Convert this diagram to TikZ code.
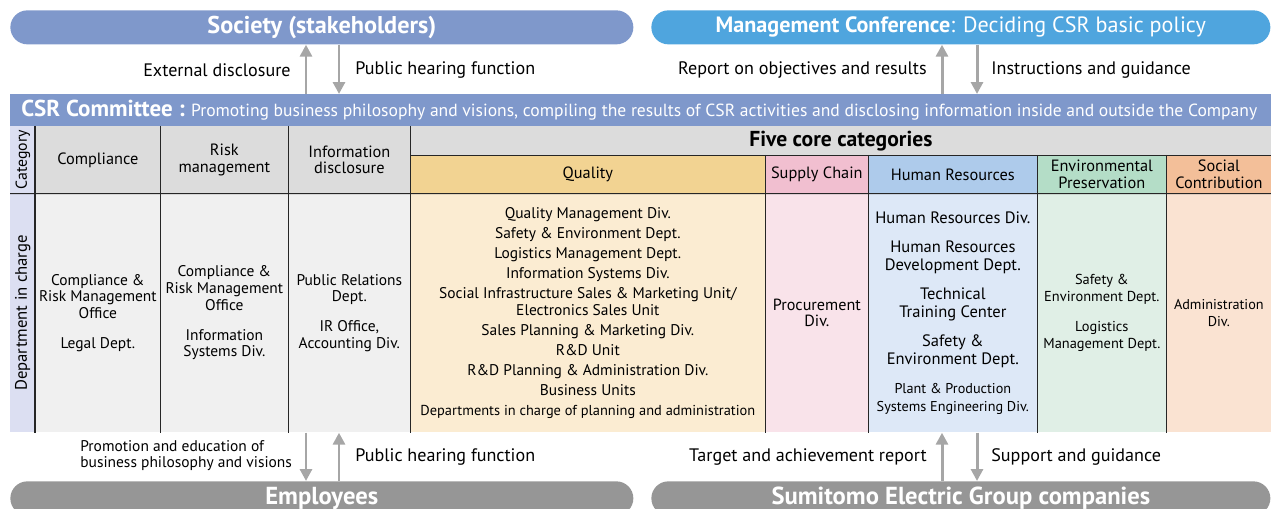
\documentclass[tikz,border=0pt]{standalone}
\usepackage{fontspec}
\setmainfont{PT Sans}
\usetikzlibrary{arrows.meta}

\newlength\px
\setlength\px{0.02cm}

\definecolor{barblue}{HTML}{7F98CB}
\definecolor{skyblue}{HTML}{4FA5DE}
\definecolor{pillgray}{HTML}{969696}
\definecolor{flowgray}{HTML}{A6A6A6}
\definecolor{lavender}{HTML}{DCDFF2}
\definecolor{headgray}{HTML}{DCDCDC}
\definecolor{bodygray}{HTML}{F0F0F0}
\definecolor{qhead}{HTML}{F2D392}
\definecolor{qbody}{HTML}{FBECD2}
\definecolor{schead}{HTML}{F1BFD0}
\definecolor{scbody}{HTML}{F9E3EA}
\definecolor{hrhead}{HTML}{AECBEB}
\definecolor{hrbody}{HTML}{DDE8F7}
\definecolor{ephead}{HTML}{B4DDC7}
\definecolor{epbody}{HTML}{E0EFE6}
\definecolor{sohead}{HTML}{F3BF99}
\definecolor{sobody}{HTML}{FAE3D2}

\tikzset{
  pill/.style={fill=#1, rounded corners=17\px, minimum width=623\px, minimum height=34\px,
    inner sep=0pt, anchor=north west, text=white, font=\fontsize{14}{16}\selectfont},
  flow/.style={draw=flowgray, line width=1.7pt, -{Triangle[width=6.8pt,length=6.8pt]}},
  lbl/.style={inner sep=0pt, font=\fontsize{10.3}{12}\selectfont},
  cell/.style={fill=#1, anchor=north west, inner sep=0pt, align=center, font=\fontsize{8.8}{9.5}\selectfont},
  headcell/.style={cell=#1, font=\fontsize{9.3}{9.6}\selectfont},
  grid/.style={draw=black!85, line width=0.57pt},
}

\begin{document}
\begin{tikzpicture}[x=0.02cm, y=-0.02cm]
\useasboundingbox (0,0) rectangle (1271,509);
\clip (0,0) rectangle (1271,509);

%% top bodies
\node[pill=barblue, font=\fontsize{13.8}{16}\selectfont] (soc) at (10,10) {\bfseries Society (stakeholders)};
\node[pill=skyblue, minimum width=619\px, font=\fontsize{12.6}{15}\selectfont] (mgmt) at (651,10) {\textbf{Management Conference}: Deciding CSR basic policy};
\node[fill=barblue, anchor=north west, minimum width=1261\px, minimum height=32\px, inner sep=0pt] (csr) at (10,94) {};
\node[anchor=west, text=white, inner sep=0pt] (csrText) at (21,110) {{\fontsize{13.1}{15}\selectfont\bfseries CSR Committee :} {\fontsize{10}{12}\selectfont Promoting business philosophy and visions, compiling the results of CSR activities and disclosing information inside and outside the Company}};

%% table: side labels
\node[cell=lavender, minimum width=25\px, minimum height=67\px] (cat) at (10,126) {};
\node[cell=lavender, minimum width=25\px, minimum height=239\px] (dept) at (10,193) {};
\node[rotate=90, inner sep=0pt, font=\fontsize{9}{10}\selectfont] (catLbl) at (cat.center) {Category};
\node[rotate=90, inner sep=0pt, font=\fontsize{9.5}{10}\selectfont] (deptLbl) at (dept.center) {Department in charge};

%% table: header row
\node[headcell=headgray, minimum width=125\px, minimum height=67\px] (hComp) at (35,126) {Compliance};
\node[headcell=headgray, minimum width=128\px, minimum height=67\px] (hRisk) at (160,126) {Risk\\management};
\node[headcell=headgray, minimum width=122\px, minimum height=67\px] (hInfo) at (288,126) {Information\\disclosure};
\node[cell=headgray, minimum width=861\px, minimum height=29\px, font=\fontsize{12.3}{14}\selectfont\bfseries] (hFive) at (410,126) {Five core categories};
\node[headcell=qhead, minimum width=355\px, minimum height=38\px] (hQual) at (410,155) {Quality};
\node[headcell=schead, minimum width=103\px, minimum height=38\px] (hSupp) at (765,155) {Supply Chain};
\node[headcell=hrhead, minimum width=169\px, minimum height=38\px] (hHR) at (868,155) {Human Resources};
\node[headcell=ephead, minimum width=129\px, minimum height=38\px] (hEnv) at (1037,155) {Environmental\\Preservation};
\node[headcell=sohead, minimum width=105\px, minimum height=38\px] (hSoc) at (1166,155) {Social\\Contribution};

%% table: departments in charge
\node[cell=bodygray, minimum width=125\px, minimum height=239\px] (dComp) at (35,193)
  {Compliance \&\\Risk Management\\Office\\[7.5pt]Legal Dept.};
\node[cell=bodygray, minimum width=128\px, minimum height=239\px] (dRisk) at (160,193)
  {Compliance \&\\Risk Management\\Office\\[7.5pt]Information\\Systems Div.};
\node[cell=bodygray, minimum width=122\px, minimum height=239\px] (dInfo) at (288,193)
  {Public Relations\\Dept.\\[7.5pt]IR Office,\\Accounting Div.};
\node[cell=qbody, minimum width=355\px, minimum height=239\px] (dQual) at (410,193)
  {Quality Management Div.\\[1.9pt]Safety \& Environment Dept.\\[1.9pt]Logistics Management Dept.\\[1.9pt]%
   Information Systems Div.\\[1.9pt]Social Infrastructure Sales \& Marketing Unit/\\Electronics Sales Unit\\[1.9pt]%
   Sales Planning \& Marketing Div.\\[1.9pt]R\&D Unit\\[1.9pt]R\&D Planning \& Administration Div.\\[1.9pt]%
   Business Units\\[1.9pt]{\fontsize{8.2}{9.5}\selectfont Departments in charge of planning and administration}};
\node[cell=scbody, minimum width=103\px, minimum height=239\px, font=\fontsize{9.2}{9.5}\selectfont] (dSupp) at (765,193) {Procurement\\Div.};
\node[cell=hrbody, minimum width=169\px, minimum height=239\px, font=\fontsize{9.4}{9.9}\selectfont] (dHR) at (868,193)
  {Human Resources Div.\\[7pt]Human Resources\\Development Dept.\\[7pt]Technical\\Training Center\\[7pt]%
   Safety \&\\Environment Dept.\\[7pt]{\fontsize{8.1}{9.5}\selectfont Plant \& Production}\\{\fontsize{8.1}{9.5}\selectfont Systems Engineering Div.}};
\node[cell=epbody, minimum width=129\px, minimum height=239\px, font=\fontsize{8.2}{9.5}\selectfont] (dEnv) at (1037,193)
  {Safety \&\\Environment Dept.\\[8pt]Logistics\\Management Dept.};
\node[cell=sobody, minimum width=105\px, minimum height=239\px, font=\fontsize{8.1}{9.5}\selectfont] (dSoc) at (1166,193) {Administration\\Div.};

%% table lines
\draw[grid] (cat.south west) -- (hSoc.south east);
\draw[grid] (hFive.south west) -- (hFive.south east);
\draw[grid] (hComp.north west) -- (dComp.south west);
\draw[grid] (hRisk.north west) -- (dRisk.south west);
\draw[grid] (hInfo.north west) -- (dInfo.south west);
\draw[grid] (hFive.north west) -- (dQual.south west);
\draw[grid] (hSupp.north west) -- (dSupp.south west);
\draw[grid] (hHR.north west) -- (dHR.south west);
\draw[grid] (hEnv.north west) -- (dEnv.south west);
\draw[grid] (hSoc.north west) -- (dSoc.south west);

%% bottom bodies
\node[pill=pillgray] (emp) at (10,481) {\bfseries Employees};
\node[pill=pillgray, minimum width=619\px] (grp) at (651,481) {\bfseries Sumitomo Electric Group companies};

%% flows
\coordinate (xA) at (306,0);
\coordinate (xB) at (339,0);
\coordinate (xC) at (942,0);
\coordinate (xD) at (977,0);
\draw[flow] (csr.north -| xA) -- (soc.south -| xA);
\draw[flow] (soc.south -| xB) -- (csr.north -| xB);
\draw[flow] (csr.north -| xC) -- (mgmt.south -| xC);
\draw[flow] (mgmt.south -| xD) -- (csr.north -| xD);
\draw[flow] (dInfo.south -| xA) -- (emp.north -| xA);
\draw[flow] (emp.north -| xB) -- (dInfo.south -| xB);
\draw[flow] (grp.north -| xC) -- (dHR.south -| xC);
\draw[flow] (dHR.south -| xD) -- (grp.north -| xD);

%% flow labels
\node[lbl, anchor=east] (extDisc) at (291,70) {External disclosure};
\node[lbl, anchor=west] (pubHearTop) at (355,70) {Public hearing function};
\node[lbl, anchor=east] (report) at (927,70) {Report on objectives and results};
\node[lbl, anchor=west] (instr) at (991,70) {Instructions and guidance};
\node[lbl, anchor=west, align=left, font=\fontsize{8.8}{9.1}\selectfont] (promo) at (80,456) {Promotion and education of\\business philosophy and visions};
\node[lbl, anchor=west] (pubHearBot) at (355,457) {Public hearing function};
\node[lbl, anchor=east] (target) at (927,457) {Target and achievement report};
\node[lbl, anchor=west] (support) at (991,457) {Support and guidance};
\end{tikzpicture}
\end{document}
